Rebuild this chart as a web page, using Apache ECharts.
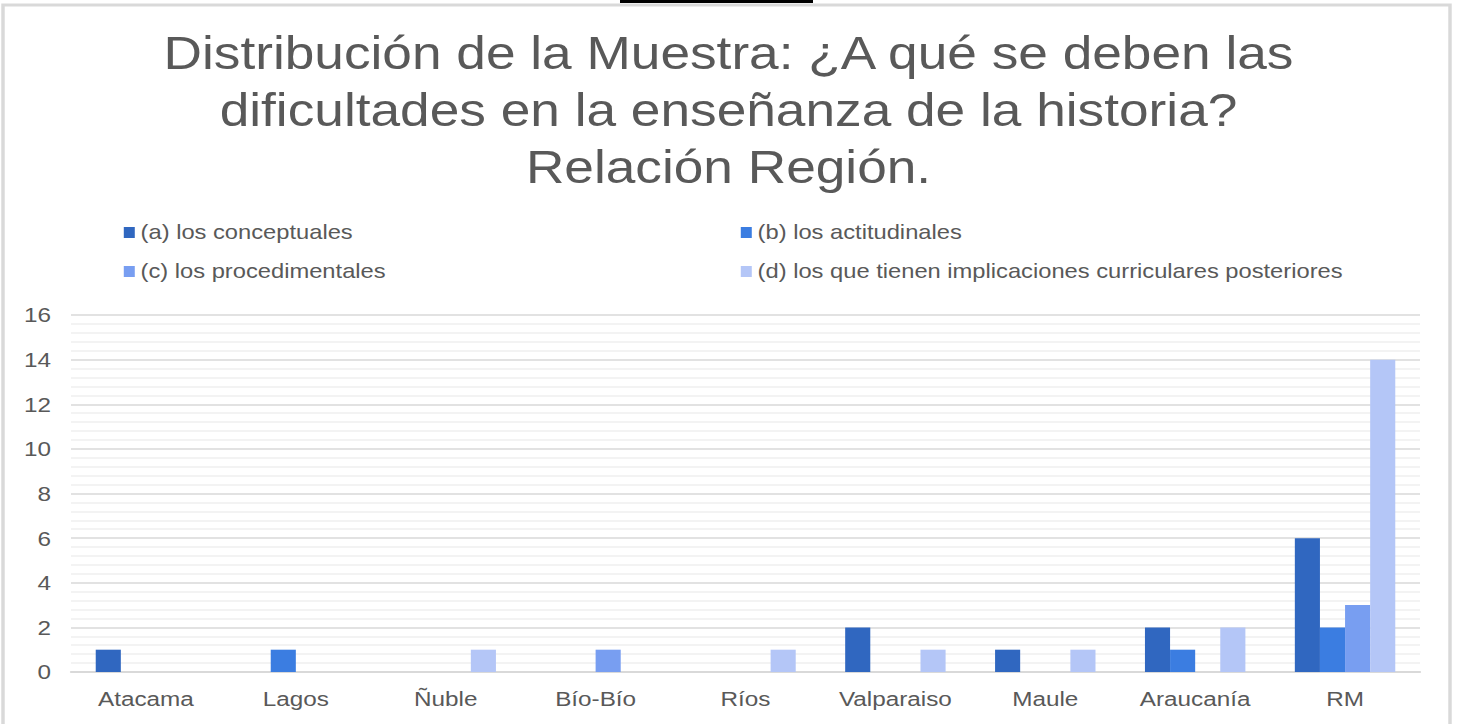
<!DOCTYPE html>
<html><head><meta charset="utf-8">
<script src="https://cdn.jsdelivr.net/npm/echarts@6/dist/echarts.min.js"></script>
<style>html,body{margin:0;padding:0;background:#fff;overflow:hidden}
#wrap{width:1457px;height:724px;overflow:hidden}
#c{height:724px;transform-origin:0 0}</style>
</head><body><div id="wrap"><div id="c"></div></div>
<script>
const categories = ['Atacama','Lagos','Ñuble','Bío-Bío','Ríos','Valparaiso','Maule','Araucanía','RM'];
const seriesNames = ['(a) los conceptuales','(b) los actitudinales','(c) los procedimentales','(d) los que tienen implicaciones curriculares posteriores'];
const conceptuales    = [1,0,0,0,0,2,1,2,6];
const actitudinales   = [0,1,0,0,0,0,0,1,2];
const procedimentales = [0,0,0,1,0,0,0,0,3];
const implicaciones   = [0,0,1,0,1,1,1,2,14];
const yTicks = [0,16,2];
const colors = ['#3067C0','#3B7DE1','#789EF1','#B4C6F7'];
const values = [conceptuales, actitudinales, procedimentales, implicaciones];
const FONT = '"Liberation Sans", Arial, sans-serif';
const txt = '#595959';

// the reference text is horizontally wide: draw on a narrower canvas and stretch it
const S = 1.157;
const W = 1457 / S;
const el = document.getElementById('c');
el.style.width = W + 'px';
el.style.transform = 'scaleX(' + S + ')';
const X = v => v / S;

const chart = echarts.init(el, null, {renderer:'svg', width:W, height:724});
const legendPos = [[118,217],[735,217],[118,256],[735,256]];
chart.setOption({
  animation:false,
  title:{text:'Distribución de la Muestra: ¿A qué se deben las\ndificultades en la enseñanza de la historia?\nRelación Región.',
    left:'center', top:20,
    textStyle:{fontFamily:FONT,fontSize:46,fontWeight:'normal',color:txt,lineHeight:57}},
  legend: seriesNames.map((n,i)=>({data:[n], left:X(legendPos[i][0]), top:legendPos[i][1], icon:'rect', itemWidth:X(11), itemHeight:11, itemGap:5,
    textStyle:{fontFamily:FONT,fontSize:20.5,color:txt}})),
  graphic:[
    {type:'rect', shape:{x:X(3),y:5,width:X(1447),height:730}, style:{fill:'none',stroke:'#d9d9d9',lineWidth:3}},
    {type:'rect', shape:{x:X(620),y:0,width:X(193),height:3}, style:{fill:'#000'}}
  ],
  grid:{left:X(71),right:X(37),top:315,bottom:52,containLabel:false},
  xAxis:{type:'category',data:categories,
    axisLine:{lineStyle:{color:'#d9d9d9',width:2}},axisTick:{show:false},
    axisLabel:{fontFamily:FONT,fontSize:21,color:txt,margin:16}},
  yAxis:{type:'value',min:yTicks[0],max:yTicks[1],interval:yTicks[2],
    axisLine:{show:false},axisTick:{show:false},
    axisLabel:{fontFamily:FONT,fontSize:21,color:txt,margin:X(20)},
    splitLine:{lineStyle:{color:'#d9d9d9',width:1.5}},
    minorTick:{show:false,splitNumber:5},
    minorSplitLine:{show:true,lineStyle:{color:'#efefef',width:1.5}}},
  series: values.map((v,i)=>({name:seriesNames[i],type:'bar',data:v,barGap:'0%',barCategoryGap:'33%',
    itemStyle:{color:colors[i]}}))
});
</script></body></html>
